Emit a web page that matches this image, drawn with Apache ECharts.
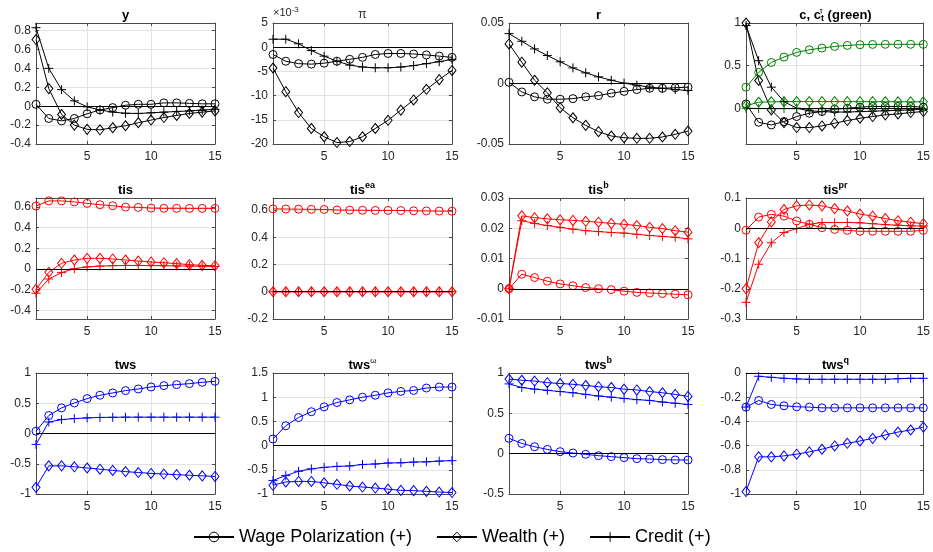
<!DOCTYPE html>
<html>
<head>
<meta charset="utf-8">
<script src="https://cdn.jsdelivr.net/npm/echarts@6/dist/echarts.min.js"></script>
<style>
  html, body { margin: 0; padding: 0; background: #fff; }
  #chart { width: 933px; height: 552px; }
</style>
</head>
<body>
<div id="chart"></div>
<script>
// Impulse responses, periods 1..15
const periods = [1, 2, 3, 4, 5, 6, 7, 8, 9, 10, 11, 12, 13, 14, 15];
const shockNames = ['Wage Polarization (+)', 'Wealth (+)', 'Credit (+)'];

// y
const yWage   = [0.02, -0.13, -0.155, -0.13, -0.08, -0.04, -0.015, 0.01, 0.02, 0.02, 0.035, 0.035, 0.03, 0.025, 0.025];
const yWealth = [0.705, 0.186, -0.088, -0.2, -0.245, -0.25, -0.228, -0.207, -0.175, -0.147, -0.12, -0.098, -0.077, -0.063, -0.05];
const yCredit = [0.83, 0.40, 0.175, 0.056, -0.007, -0.04, -0.062, -0.075, -0.077, -0.07, -0.063, -0.056, -0.05, -0.042, -0.032];

// pi
const piWage   = [-0.0015, -0.0029, -0.0034, -0.0035, -0.0033, -0.0029, -0.0025, -0.0021, -0.0015, -0.0013, -0.0013, -0.0014, -0.0016, -0.00185, -0.0021];
const piWealth = [-0.0043, -0.0092, -0.0135, -0.0168, -0.0185, -0.0197, -0.0195, -0.0185, -0.0168, -0.0151, -0.013, -0.0109, -0.0087, -0.0067, -0.0048];
const piCredit = [0.00165, 0.00165, 0.0007, -0.0007, -0.00185, -0.0029, -0.0037, -0.0041, -0.00425, -0.00425, -0.0041, -0.0038, -0.0034, -0.003, -0.0025];

// r
const rWage   = [0.001, -0.007, -0.011, -0.013, -0.013, -0.0125, -0.011, -0.010, -0.008, -0.0065, -0.005, -0.004, -0.004, -0.0035, -0.003];
const rWealth = [0.0327, 0.0176, 0.0027, -0.0077, -0.02, -0.0283, -0.0346, -0.0398, -0.0434, -0.0448, -0.0453, -0.0453, -0.0442, -0.042, -0.0393];
const rCredit = [0.0412, 0.0349, 0.0286, 0.0231, 0.0179, 0.0129, 0.0088, 0.0055, 0.0027, 0.0003, -0.0014, -0.003, -0.004, -0.005, -0.0058];

// c (black) and c_t^tau (green)
const cWage   = [0.05, -0.165, -0.196, -0.157, -0.098, -0.059, -0.039, -0.012, 0, 0.012, 0.02, 0.02, 0.02, 0.02, 0.012];
const cWealth = [1.0, 0.325, -0.02, -0.169, -0.227, -0.227, -0.208, -0.176, -0.145, -0.118, -0.098, -0.078, -0.067, -0.051, -0.039];
const cCredit = [0.97, 0.557, 0.247, 0.078, 0, -0.03, -0.04, -0.045, -0.045, -0.04, -0.035, -0.03, -0.025, -0.02, -0.012];
const cTauWage   = [0.247, 0.42, 0.537, 0.6, 0.655, 0.686, 0.706, 0.725, 0.737, 0.745, 0.749, 0.75, 0.75, 0.75, 0.75];
const cTauWealth = [0.03, 0.07, 0.075, 0.077, 0.078, 0.078, 0.078, 0.078, 0.077, 0.077, 0.077, 0.076, 0.076, 0.075, 0.075];
const cTauCredit = [0, -0.004, -0.005, -0.005, -0.005, -0.005, -0.005, -0.005, -0.005, -0.005, -0.005, -0.005, -0.005, -0.005, -0.005];

// tis
const tisWage   = [0.61, 0.66, 0.66, 0.65, 0.636, 0.623, 0.613, 0.6, 0.597, 0.59, 0.588, 0.588, 0.587, 0.587, 0.587];
const tisWealth = [-0.197, -0.032, 0.055, 0.087, 0.103, 0.103, 0.097, 0.087, 0.077, 0.068, 0.061, 0.052, 0.042, 0.035, 0.032];
const tisCredit = [-0.235, -0.097, -0.035, 0.003, 0.02, 0.028, 0.032, 0.034, 0.034, 0.033, 0.032, 0.03, 0.028, 0.026, 0.024];

// tis^ea
const tisEaWage   = [0.608, 0.607, 0.606, 0.605, 0.604, 0.600, 0.599, 0.598, 0.597, 0.597, 0.596, 0.594, 0.593, 0.592, 0.591];
const tisEaWealth = [0, 0, 0, 0, 0, 0, 0, 0, 0, 0, 0, 0, 0, 0, 0];
const tisEaCredit = [0, 0, 0, 0, 0, 0, 0, 0, 0, 0, 0, 0, 0, 0, 0];

// tis^b
const tisBWage   = [0, 0.0048, 0.0037, 0.0025, 0.0016, 0.001, 0.0004, 0, -0.0003, -0.0008, -0.0012, -0.0014, -0.0016, -0.0018, -0.002];
const tisBWealth = [0, 0.0241, 0.0235, 0.0231, 0.0228, 0.0226, 0.0223, 0.022, 0.0216, 0.0213, 0.0209, 0.0203, 0.0199, 0.0192, 0.0187];
const tisBCredit = [0, 0.0225, 0.0216, 0.0209, 0.0203, 0.0197, 0.0192, 0.0189, 0.0186, 0.0184, 0.018, 0.0176, 0.0173, 0.017, 0.0165];

// tis^pr
const tisPrWage   = [-0.0066, 0.037, 0.046, 0.04, 0.024, 0.013, 0.002, -0.004, -0.007, -0.01, -0.01, -0.01, -0.01, -0.01, -0.007];
const tisPrWealth = [-0.2, -0.048, 0.021, 0.062, 0.074, 0.077, 0.074, 0.065, 0.057, 0.047, 0.04, 0.032, 0.025, 0.02, 0.015];
const tisPrCredit = [-0.245, -0.119, -0.048, -0.014, -0.001, 0.013, 0.019, 0.019, 0.019, 0.018, 0.015, 0.012, 0.01, 0.008, 0.007];

// tws
const twsWage   = [0.038, 0.297, 0.423, 0.505, 0.577, 0.632, 0.67, 0.709, 0.736, 0.769, 0.791, 0.808, 0.824, 0.846, 0.863];
const twsWealth = [-0.89, -0.535, -0.535, -0.55, -0.57, -0.59, -0.61, -0.63, -0.645, -0.66, -0.67, -0.68, -0.69, -0.70, -0.71];
const twsCredit = [-0.18, 0.19, 0.23, 0.247, 0.258, 0.265, 0.268, 0.27, 0.27, 0.27, 0.27, 0.27, 0.27, 0.27, 0.27];

// tws^omega
const twsOmWage   = [0.137, 0.41, 0.58, 0.70, 0.80, 0.89, 0.945, 1.0, 1.04, 1.09, 1.12, 1.14, 1.19, 1.21, 1.21];
const twsOmWealth = [-0.82, -0.75, -0.74, -0.74, -0.77, -0.80, -0.835, -0.856, -0.877, -0.9, -0.925, -0.93, -0.945, -0.96, -0.97];
const twsOmCredit = [-0.72, -0.62, -0.53, -0.48, -0.45, -0.43, -0.42, -0.39, -0.38, -0.36, -0.355, -0.34, -0.335, -0.32, -0.31];

// tws^b
const twsBWage   = [0.19, 0.127, 0.086, 0.053, 0.025, 0.008, -0.008, -0.025, -0.037, -0.049, -0.062, -0.066, -0.074, -0.078, -0.078];
const twsBWealth = [0.925, 0.91, 0.90, 0.88, 0.87, 0.86, 0.845, 0.83, 0.82, 0.80, 0.79, 0.77, 0.755, 0.735, 0.71];
const twsBCredit = [0.865, 0.82, 0.80, 0.785, 0.77, 0.755, 0.735, 0.715, 0.70, 0.685, 0.67, 0.66, 0.64, 0.625, 0.61];

// tws^q
const twsQWage   = [-0.282, -0.227, -0.26, -0.271, -0.279, -0.282, -0.288, -0.288, -0.288, -0.288, -0.288, -0.288, -0.288, -0.288, -0.288];
const twsQWealth = [-0.98, -0.693, -0.693, -0.685, -0.671, -0.652, -0.63, -0.603, -0.581, -0.562, -0.54, -0.512, -0.488, -0.471, -0.447];
const twsQCredit = [-0.282, -0.027, -0.036, -0.044, -0.049, -0.052, -0.052, -0.052, -0.052, -0.052, -0.052, -0.052, -0.047, -0.044, -0.044];

// Tick labels
const xTicks      = [5, 10, 15];
const yTicks      = [-0.4, -0.2, 0, 0.2, 0.4, 0.6, 0.8];
const piTicks     = [-0.02, -0.015, -0.01, -0.005, 0, 0.005];
const rTicks      = [-0.05, 0, 0.05];
const cTicks      = [0, 0.5, 1];
const tisTicks    = [-0.4, -0.2, 0, 0.2, 0.4, 0.6];
const tisEaTicks  = [-0.2, 0, 0.2, 0.4, 0.6];
const tisBTicks   = [-0.01, 0, 0.01, 0.02, 0.03];
const tisPrTicks  = [-0.3, -0.2, -0.1, 0, 0.1];
const twsTicks    = [-1, -0.5, 0, 0.5, 1];
const twsOmTicks  = [-1, -0.5, 0, 0.5, 1, 1.5];
const twsBTicks   = [-0.5, 0, 0.5, 1];
const twsQTicks   = [-1, -0.8, -0.6, -0.4, -0.2, 0];

const FONT = "'Liberation Sans', Arial, Helvetica, sans-serif";
const BLACK = '#000000', RED = '#ff0000', BLUE = '#0000ff', GREEN = '#008000';
const AXIS_COLOR = '#4a4a4a';
const PLUS = 'path://M0,-1L0,1M-1,0L1,0';
const MARKERS = [
  { symbol: 'circle', size: 8 },
  { symbol: 'diamond', size: [8, 10] },
  { symbol: PLUS, size: 9 }
];

function trio(color, a, b, c) {
  return [a, b, c].map((vals, k) => ({ name: shockNames[k], values: vals, color, marker: MARKERS[k] }));
}

// Panel grid: 4 columns x 3 rows
const lefts = [36, 273, 509, 746];
const tops = [23, 198, 373];
const boxW = 179, boxH = 121;

const panels = [
  { title: '{b|y}', min: -0.4, max: 0.88, ticks: yTicks, traces: trio(BLACK, yWage, yWealth, yCredit) },
  { title: '{p|π}', min: -0.02, max: 0.005, ticks: piTicks, scale: 1e3, traces: trio(BLACK, piWage, piWealth, piCredit) },
  { title: '{b|r}', min: -0.05, max: 0.05, ticks: rTicks, traces: trio(BLACK, rWage, rWealth, rCredit) },
  { title: '{b|c, c}{supw|τ}{sub|t}{b| (green)}', min: -0.42, max: 1, ticks: cTicks,
    traces: trio(BLACK, cWage, cWealth, cCredit).concat(trio(GREEN, cTauWage, cTauWealth, cTauCredit)) },
  { title: '{b|tis}', min: -0.485, max: 0.688, ticks: tisTicks, traces: trio(RED, tisWage, tisWealth, tisCredit) },
  { title: '{b|tis}{sup|ea}', min: -0.2, max: 0.688, ticks: tisEaTicks, traces: trio(RED, tisEaWage, tisEaWealth, tisEaCredit) },
  { title: '{b|tis}{sup|b}', min: -0.01, max: 0.03, ticks: tisBTicks, traces: trio(RED, tisBWage, tisBWealth, tisBCredit) },
  { title: '{b|tis}{sup|pr}', min: -0.3, max: 0.1, ticks: tisPrTicks, traces: trio(RED, tisPrWage, tisPrWealth, tisPrCredit) },
  { title: '{b|tws}', min: -1, max: 1, ticks: twsTicks, traces: trio(BLUE, twsWage, twsWealth, twsCredit) },
  { title: '{b|tws}{supn|ω}', min: -1, max: 1.5, ticks: twsOmTicks, traces: trio(BLUE, twsOmWage, twsOmWealth, twsOmCredit) },
  { title: '{b|tws}{sup|b}', min: -0.5, max: 1, ticks: twsBTicks, traces: trio(BLUE, twsBWage, twsBWealth, twsBCredit) },
  { title: '{b|tws}{sup|q}', min: -1, max: 0, ticks: twsQTicks, traces: trio(BLUE, twsQWage, twsQWealth, twsQCredit) }
];

const titleRich = {
  b:    { fontFamily: FONT, fontWeight: 'bold', fontSize: 13, color: '#000', lineHeight: 17 },
  p:    { fontFamily: FONT, fontWeight: 'normal', fontSize: 12, color: '#262626', lineHeight: 17 },
  sup:  { fontFamily: FONT, fontWeight: 'bold', fontSize: 9, color: '#000', lineHeight: 9, verticalAlign: 'top' },
  supn: { fontFamily: FONT, fontWeight: 'normal', fontSize: 8, color: '#000', lineHeight: 8, verticalAlign: 'top' },
  supw: { fontFamily: FONT, fontWeight: 'normal', fontSize: 8, color: '#000', lineHeight: 8, verticalAlign: 'top', width: 0 },
  sub:  { fontFamily: FONT, fontWeight: 'bold', fontSize: 9, color: '#000', lineHeight: 9, verticalAlign: 'bottom' }
};

function fmt(v, scale) {
  const s = scale ? v * scale : v;
  return String(parseFloat(s.toPrecision(8)));
}

const grids = [], xAxes = [], yAxes = [], titles = [], series = [];
const n = panels.length;

panels.forEach((p, i) => {
  const left = lefts[i % 4], top = tops[Math.floor(i / 4)];
  grids.push({ left, top, width: boxW, height: boxH, show: false });

  titles.push({
    text: p.title, left: left + boxW / 2, top: top - 8, padding: 0,
    textAlign: 'center', textVerticalAlign: 'middle',
    textStyle: { rich: titleRich }
  });

  const tickStyle = { inside: true, length: 3, lineStyle: { color: AXIS_COLOR, width: 1 } };
  const lineStyle = { show: true, onZero: false, lineStyle: { color: AXIS_COLOR, width: 1 } };

  // bottom / left axes carry labels and grid lines
  xAxes[i] = {
    gridIndex: i, type: 'value', position: 'bottom', min: 1, max: 15,
    axisLine: lineStyle,
    axisTick: Object.assign({ customValues: xTicks }, tickStyle),
    axisLabel: { customValues: xTicks, margin: 7, fontSize: 12, fontFamily: FONT, color: '#262626' },
    splitLine: { show: true, lineStyle: { color: '#e2e2e2', width: 1 } }
  };
  yAxes[i] = {
    gridIndex: i, type: 'value', position: 'left', min: p.min, max: p.max,
    axisLine: lineStyle,
    axisTick: Object.assign({ customValues: p.ticks }, tickStyle),
    axisLabel: { customValues: p.ticks, margin: 5, fontSize: 12, fontFamily: FONT, color: '#262626',
                 formatter: v => fmt(v, p.scale) },
    splitLine: { show: true, lineStyle: { color: '#e2e2e2', width: 1 } }
  };
  // top / right axes close the box and mirror the ticks
  xAxes[n + i] = {
    gridIndex: i, type: 'value', position: 'top', min: 1, max: 15,
    axisLine: lineStyle,
    axisTick: Object.assign({ customValues: xTicks }, tickStyle),
    axisLabel: { show: false }, splitLine: { show: false }
  };
  yAxes[n + i] = {
    gridIndex: i, type: 'value', position: 'right', min: p.min, max: p.max,
    axisLine: lineStyle,
    axisTick: Object.assign({ customValues: p.ticks }, tickStyle),
    axisLabel: { show: false }, splitLine: { show: false }
  };

  p.traces.forEach((t, k) => {
    const s = {
      type: 'line', name: t.name, xAxisIndex: i, yAxisIndex: i,
      data: periods.map((x, j) => [x, t.values[j]]),
      symbol: t.marker.symbol, symbolSize: t.marker.size, showAllSymbol: true,
      lineStyle: { color: t.color, width: 1 },
      itemStyle: { color: 'rgba(0,0,0,0)', borderColor: t.color, borderWidth: 1 },
      clip: false, silent: true, animation: false,
      emphasis: { disabled: true }
    };
    if (k === 0) {
      // zero reference line
      s.markLine = {
        silent: true, animation: false, symbol: ['none', 'none'],
        label: { show: false },
        lineStyle: { color: '#000', width: 1, type: 'solid' },
        emphasis: { disabled: true },
        data: [{ yAxis: 0 }]
      };
    }
    series.push(s);
  });
});

// exponent note for the pi panel
titles.push({
  text: '{n|×10}{s|-3}', left: lefts[1], top: 13, padding: 0,
  textAlign: 'left', textVerticalAlign: 'middle',
  textStyle: { rich: {
    n: { fontFamily: FONT, fontSize: 11, fontWeight: 'normal', color: '#262626', lineHeight: 14 },
    s: { fontFamily: FONT, fontSize: 8, fontWeight: 'normal', color: '#262626', lineHeight: 8, verticalAlign: 'top' }
  } }
});

const chart = echarts.init(document.getElementById('chart'), null, { renderer: 'canvas' });
chart.setOption({
  backgroundColor: '#ffffff',
  animation: false,
  title: titles,
  grid: grids,
  xAxis: xAxes,
  yAxis: yAxes,
  legend: {
    data: shockNames, left: 193, top: 528, padding: 0,
    itemWidth: 40, itemHeight: 12, itemGap: 24, selectedMode: false,
    itemStyle: { borderWidth: 1 },
    textStyle: { fontSize: 18, fontFamily: FONT, color: '#000' }
  },
  series
});
</script>
</body>
</html>
